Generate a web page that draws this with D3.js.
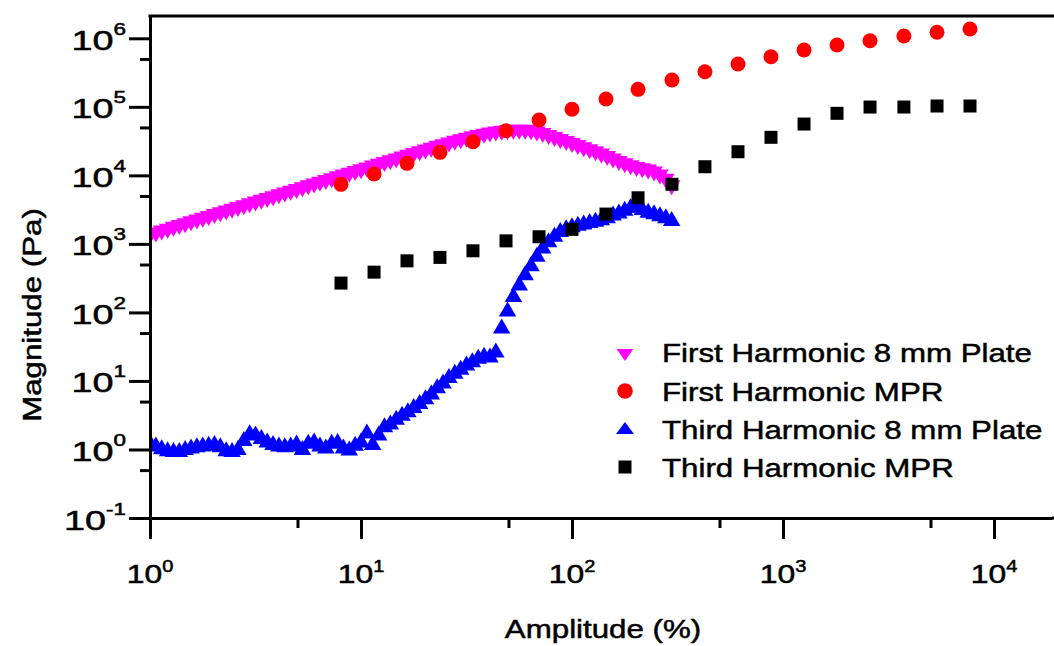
<!DOCTYPE html>
<html><head><meta charset="utf-8">
<script src="https://cdn.jsdelivr.net/npm/d3@7"></script>
<style>body{margin:0;background:#fff}svg{display:block}text{font-family:"Liberation Sans",Arial,sans-serif;fill:#000;stroke:#000;stroke-width:0.5px}</style>
</head><body><svg id="c" width="1054" height="646"></svg>
<script>
// ---------- data ----------
const plateAmplitude = [1,1.066,1.136,1.212,1.292,1.377,1.468,1.565,1.668,1.778,
1.896,2.021,2.154,2.297,2.448,2.610,2.783,2.967,3.162,3.371,
3.594,3.831,4.084,4.354,4.642,4.948,5.275,5.623,5.995,6.391,
6.813,7.263,7.743,8.254,8.799,9.381,10,10.66,11.36,12.12,
12.92,13.77,14.68,15.65,16.68,17.78,18.96,20.21,21.54,22.97,
24.48,26.10,27.83,29.67,31.62,33.71,35.94,38.31,40.84,43.54,
46.42,49.48,52.75,56.23,59.95,63.91,68.13,72.63,77.43,82.54,
87.99,93.81,100,106.6,113.6,121.2,129.2,137.7,146.8,156.5,
166.8,177.8,189.6,202.1,215.4,229.7,244.8,261.0,278.3,296.7];
const firstHarmonicPlate = [1270,1350,1440,1530,1630,1730,1840,1960,2080,2210,
2350,2500,2660,2820,2990,3180,3380,3590,3810,4050,
4300,4570,4860,5160,5480,5830,6190,6570,6980,7410,
7880,8370,8890,9440,10020,10660,11320,12020,12760,13580,
14420,15310,16260,17260,18370,19500,20700,21980,23340,24770,
26180,27700,29400,31000,32600,34100,35700,37300,38700,40000,
41100,42000,42500,42700,42500,41700,40300,38200,35800,33500,
31300,29200,27200,25400,23700,22100,20600,19100,17600,16200,
14900,13800,12900,12200,11700,11200,10500,9500,8200,6600];
const thirdHarmonicPlate = [1.318,1.202,1.096,1.023,1.0,1.0,1.072,1.122,1.175,1.202,
1.230,1.259,1.175,1.023,1.0,1.072,1.445,1.820,1.738,1.549,
1.380,1.259,1.202,1.175,1.202,1.288,1.072,1.318,1.380,1.202,
1.122,1.318,1.349,1.122,1.047,1.230,1.380,1.862,1.259,1.738,
2.291,2.512,2.951,3.388,3.802,4.365,5.012,5.888,6.918,8.511,
10.0,12.02,13.80,15.85,18.20,20.42,22.91,24.55,23.99,28.18,
63.10,112.2,182.0,269.2,380.2,512.9,707.9,933.3,1148,1380,
1622,1778,1905,1995,2089,2188,2291,2399,2570,2818,
3020,3311,3631,3715,3388,3090,2951,2754,2570,2344];
const mprAmplitude = [8.04,11.53,16.52,23.67,33.93,48.67,69.8,100,144.9,205.6,297.7,426.6,612,877,1258,1803,2585,3741,5370,7696];
const firstHarmonicMPR = [7390,10450,14970,21680,30950,44770,64140,92000,130000,180000,246000,325000,421000,538000,675000,798000,922000,1080000,1224000,1367000];
const thirdHarmonicMPR = [268,387,566,635,793,1107,1271,1629,2724,4710,7410,13360,22120,35900,56100,80400,99300,99300,102800,102800];
const xMajorTicks = [1,10,100,1000,10000];
const xMinorTicks = [5,50,500,5000];
const yMajorTicks = [0.1,1,10,100,1000,10000,100000,1000000];
const yMinorTicks = [0.5,5,50,500,5000,50000,500000];
const seriesNames = ["First Harmonic 8 mm Plate","First Harmonic MPR","Third Harmonic 8 mm Plate","Third Harmonic MPR"];
const xTitle = "Amplitude (%)";
const yTitle = "Magnitude (Pa)";

// ---------- layout ----------
const L = 150, R = 1052, T = 16, B = 518;
const x = d3.scaleLog().domain([1, 18830]).range([L, R]);
const y = d3.scaleLog().domain([0.1, 2116000]).range([B, T]);
const svg = d3.select("#c");
const SX = 1.18;

const sym = {
  down: "M-8.75,-7.5L8.75,-7.5L0,7.5Z",
  up: "M0,-7.5L8.75,7.5L-8.75,7.5Z",
  circle: "M7.5,0A7.5,7.5 0 1,1 -7.5,0A7.5,7.5 0 1,1 7.5,0Z",
  square: "M-6.5,-6.5H6.5V6.5H-6.5Z"
};
const colors = ["#ff00ff","#ff0000","#0000ff","#000000"];
const shapes = ["down","circle","up","square"];

svg.append("clipPath").attr("id","clip").append("rect")
  .attr("x", L).attr("y", T).attr("width", 1054 - L).attr("height", B - T);
const plot = svg.append("g").attr("clip-path","url(#clip)");

function drawSeries(xs, ys, i) {
  plot.append("g").selectAll("path").data(xs.map((v, j) => [v, ys[j]])).join("path")
    .attr("d", sym[shapes[i]]).attr("fill", colors[i])
    .attr("transform", d => `translate(${x(d[0])},${y(d[1])})`);
}
drawSeries(plateAmplitude, firstHarmonicPlate, 0);
drawSeries(mprAmplitude, firstHarmonicMPR, 1);
drawSeries(plateAmplitude, thirdHarmonicPlate, 2);
drawSeries(mprAmplitude, thirdHarmonicMPR, 3);

// ---------- axes ----------
function styleAxis(g) {
  g.selectAll("path.domain").attr("stroke","#000").attr("stroke-width",3);
  g.selectAll(".tick line").attr("stroke","#000").attr("stroke-width",3);
  g.selectAll(".tick text").remove();
}
svg.append("g").attr("transform",`translate(0,${B})`)
  .call(d3.axisBottom(x).tickValues(xMajorTicks).tickSize(21).tickSizeOuter(0).tickFormat(""))
  .call(styleAxis);
svg.append("g").attr("transform",`translate(0,${B})`)
  .call(d3.axisBottom(x).tickValues(xMinorTicks).tickSize(10).tickSizeOuter(0).tickFormat(""))
  .call(styleAxis).select("path.domain").remove();
svg.append("g").attr("transform",`translate(${L},0)`)
  .call(d3.axisLeft(y).tickValues(yMajorTicks).tickSize(21).tickSizeOuter(0).tickFormat(""))
  .call(styleAxis);
svg.append("g").attr("transform",`translate(${L},0)`)
  .call(d3.axisLeft(y).tickValues(yMinorTicks).tickSize(10).tickSizeOuter(0).tickFormat(""))
  .call(styleAxis).select("path.domain").remove();
svg.append("line").attr("x1", L - 1.5).attr("x2", 1054).attr("y1", T).attr("y2", T)
  .attr("stroke","#000").attr("stroke-width",3);
svg.append("line").attr("x1", R).attr("x2", 1054).attr("y1", B).attr("y2", B)
  .attr("stroke","#000").attr("stroke-width",3);

// tick labels
xMajorTicks.forEach(v => {
  const t = svg.append("text").attr("text-anchor","middle")
    .attr("transform",`translate(${x(v)},583) scale(1.25,1)`).attr("font-size",25.5);
  t.append("tspan").text("10");
  t.append("tspan").attr("font-size",16).attr("dy",-11.5).text(Math.round(Math.log10(v)));
});
yMajorTicks.forEach(v => {
  const t = svg.append("text").attr("text-anchor","end")
    .attr("transform",`translate(126,${y(v) + 11.5}) scale(1.4,1)`).attr("font-size",27);
  t.append("tspan").text("10");
  t.append("tspan").attr("font-size",16).attr("dy",-15).text(Math.round(Math.log10(v)));
});

// titles
svg.append("text").attr("text-anchor","middle").attr("font-size",26.5)
  .attr("transform",`translate(603,638) scale(${SX},1)`).text(xTitle);
svg.append("text").attr("text-anchor","middle").attr("font-size",26.5)
  .attr("transform",`translate(41,315) rotate(-90) scale(${SX},1)`).text(yTitle);

// legend
const legMarkY = [355, 391, 428, 467];
const legTextY = [362, 401, 439, 477];
const legShapes = {
  down: "M-8.3,-6L8.3,-6L0,6Z",
  up: "M0,-6L9,6L-9,6Z",
  circle: "M7.8,0A7.8,7.8 0 1,1 -7.8,0A7.8,7.8 0 1,1 7.8,0Z",
  square: "M-6.5,-6.5H6.5V6.5H-6.5Z"
};
seriesNames.forEach((name, i) => {
  svg.append("path").attr("d", legShapes[shapes[i]]).attr("fill", colors[i])
    .attr("transform",`translate(625,${legMarkY[i]})`);
  svg.append("text").attr("font-size",26.5)
    .attr("transform",`translate(662,${legTextY[i]}) scale(${SX},1)`).text(name);
});
</script></body></html>
